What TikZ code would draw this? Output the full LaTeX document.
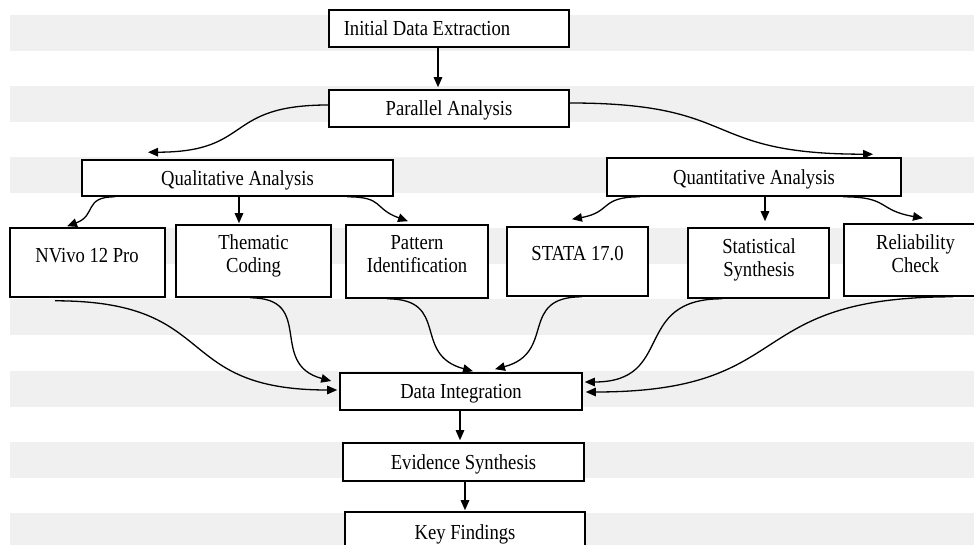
\documentclass[tikz,border=0pt]{standalone}
\usepackage{fontspec}
\setmainfont{Liberation Serif}[FakeStretch=0.87]
\usetikzlibrary{arrows.meta}
\definecolor{stripe}{RGB}{240,240,240}
\tikzset{
  box/.style={draw=black, fill=white, line width=1.6pt, inner sep=0pt,
    text height=14.2pt, text depth=0pt, font=\fontsize{21.4}{23}\selectfont},
  lbl/.style={inner sep=0pt, anchor=base, font=\fontsize{21.4}{23}\selectfont},
  conn/.style={line width=1.3pt, -{Triangle[length=10pt,width=8.5pt]}},
  sconn/.style={conn, looseness=1.45},
}
\begin{document}
\begin{tikzpicture}[x=1pt,y=-1pt]
\useasboundingbox (0,0) rectangle (974,545);
\clip (0,0) rectangle (974,545);
\fill[white] (0,0) rectangle (974,545);
\foreach \k in {0,...,7}
  \fill[stripe] (10,{15+71.1*\k}) rectangle (974,{51+71.1*\k});

% boxes
\node[box, minimum width=240pt, minimum height=37pt] (init) at (449,28.5) {Initial Data Extraction\rule{44pt}{0pt}};
\node[box, minimum width=240pt, minimum height=37pt] (par) at (449,108.5) {Parallel Analysis};
\node[box, minimum width=311pt, minimum height=36pt] (qual) at (237.5,178) {Qualitative Analysis};
\node[box, minimum width=294pt, minimum height=38pt] (quant) at (754,177) {Quantitative Analysis};
\node[box, minimum width=155pt, minimum height=69pt] (nvivo) at (87.5,262.5) {};
\node[box, minimum width=155pt, minimum height=72pt] (them) at (253.5,261) {};
\node[box, minimum width=142pt, minimum height=73pt] (patt) at (417,261.5) {};
\node[box, minimum width=141pt, minimum height=69pt] (stata) at (577.5,261.5) {};
\node[box, minimum width=141pt, minimum height=70pt] (stat) at (758.5,263) {};
\node[box, minimum width=143pt, minimum height=72pt] (rel) at (915.5,260) {};
\node[box, minimum width=242pt, minimum height=37pt] (di) at (461,391.5) {Data Integration};
\node[box, minimum width=241pt, minimum height=38pt] (es) at (463.5,462) {Evidence Synthesis};
\node[box, minimum width=240pt, minimum height=40pt] (kf) at (465,532) {Key Findings};

% texts of the second row
\node[lbl] (nvivo-t) at (87,263) {NVivo 12 Pro};
\node[lbl] (them-t) at (253.5,250) {\begin{tabular}[t]{@{}c@{}}Thematic\\Coding\end{tabular}};
\node[lbl] (patt-t) at (417,250) {\begin{tabular}[t]{@{}c@{}}Pattern\\Identification\end{tabular}};
\node[lbl] (stata-t) at (577.5,261) {STATA 17.0};
\node[lbl] (stat-t) at (759,254) {\begin{tabular}[t]{@{}c@{}}Statistical\\Synthesis\end{tabular}};
\node[lbl] (rel-t) at (915.5,250) {\begin{tabular}[t]{@{}c@{}}Reliability\\Check\end{tabular}};

% connectors
\draw[conn] ([xshift=-11pt]init.south) -- ([xshift=-11pt,yshift=2pt]par.north);
\draw[sconn] ([yshift=3.5pt]par.west) to[out=180,in=0] ([xshift=-89.5pt,yshift=7pt]qual.north);
\draw[sconn] ([yshift=5.5pt]par.east) to[out=0,in=180] ([xshift=119pt,yshift=3pt]quant.north);

\draw[sconn] ([xshift=-122.5pt]qual.south) to[out=180,in=20] ([xshift=-20.5pt,yshift=1pt]nvivo.north);
\draw[conn] ([xshift=1.5pt]qual.south) -- ([xshift=-14.5pt,yshift=1pt]them.north);
\draw[sconn] ([xshift=109.5pt]qual.south) to[out=0,in=160] ([xshift=-9pt,yshift=3pt]patt.north);
\draw[sconn] ([xshift=-114pt]quant.south) to[out=180,in=10] ([xshift=-5.5pt,yshift=7pt]stata.north);
\draw[conn] ([xshift=11pt]quant.south) -- ([xshift=6.5pt,yshift=6pt]stat.north);
\draw[sconn] ([xshift=89pt]quant.south) to[out=0,in=170] ([xshift=7.5pt,yshift=5pt]rel.north);

\draw[sconn] ([xshift=-32.5pt,yshift=-3pt]nvivo.south) to[out=0,in=180] ([xshift=-2pt,yshift=1.5pt]di.west);
\draw[sconn] ([xshift=-3.5pt]them.south) to[out=0,in=165] ([xshift=-8pt,yshift=10.5pt]di.west);
\draw[sconn] ([xshift=-30pt]patt.south) to[out=0,in=165] ([xshift=12pt,yshift=1pt]di.north);
\draw[sconn] ([xshift=4.5pt]stata.south) to[out=180,in=15] ([xshift=34pt,yshift=3pt]di.north);
\draw[sconn] ([xshift=-36.5pt]stat.south) to[out=180,in=0] ([xshift=2pt,yshift=9.5pt]di.east);
\draw[sconn] ([xshift=37.5pt]rel.south) to[out=180,in=0] ([xshift=3pt,yshift=-0.5pt]di.east);

\draw[conn] ([xshift=-1pt]di.south) -- ([xshift=-3.5pt,yshift=2pt]es.north);
\draw[conn] ([xshift=1.5pt]es.south) -- ([yshift=1pt]kf.north);
\end{tikzpicture}
\end{document}
